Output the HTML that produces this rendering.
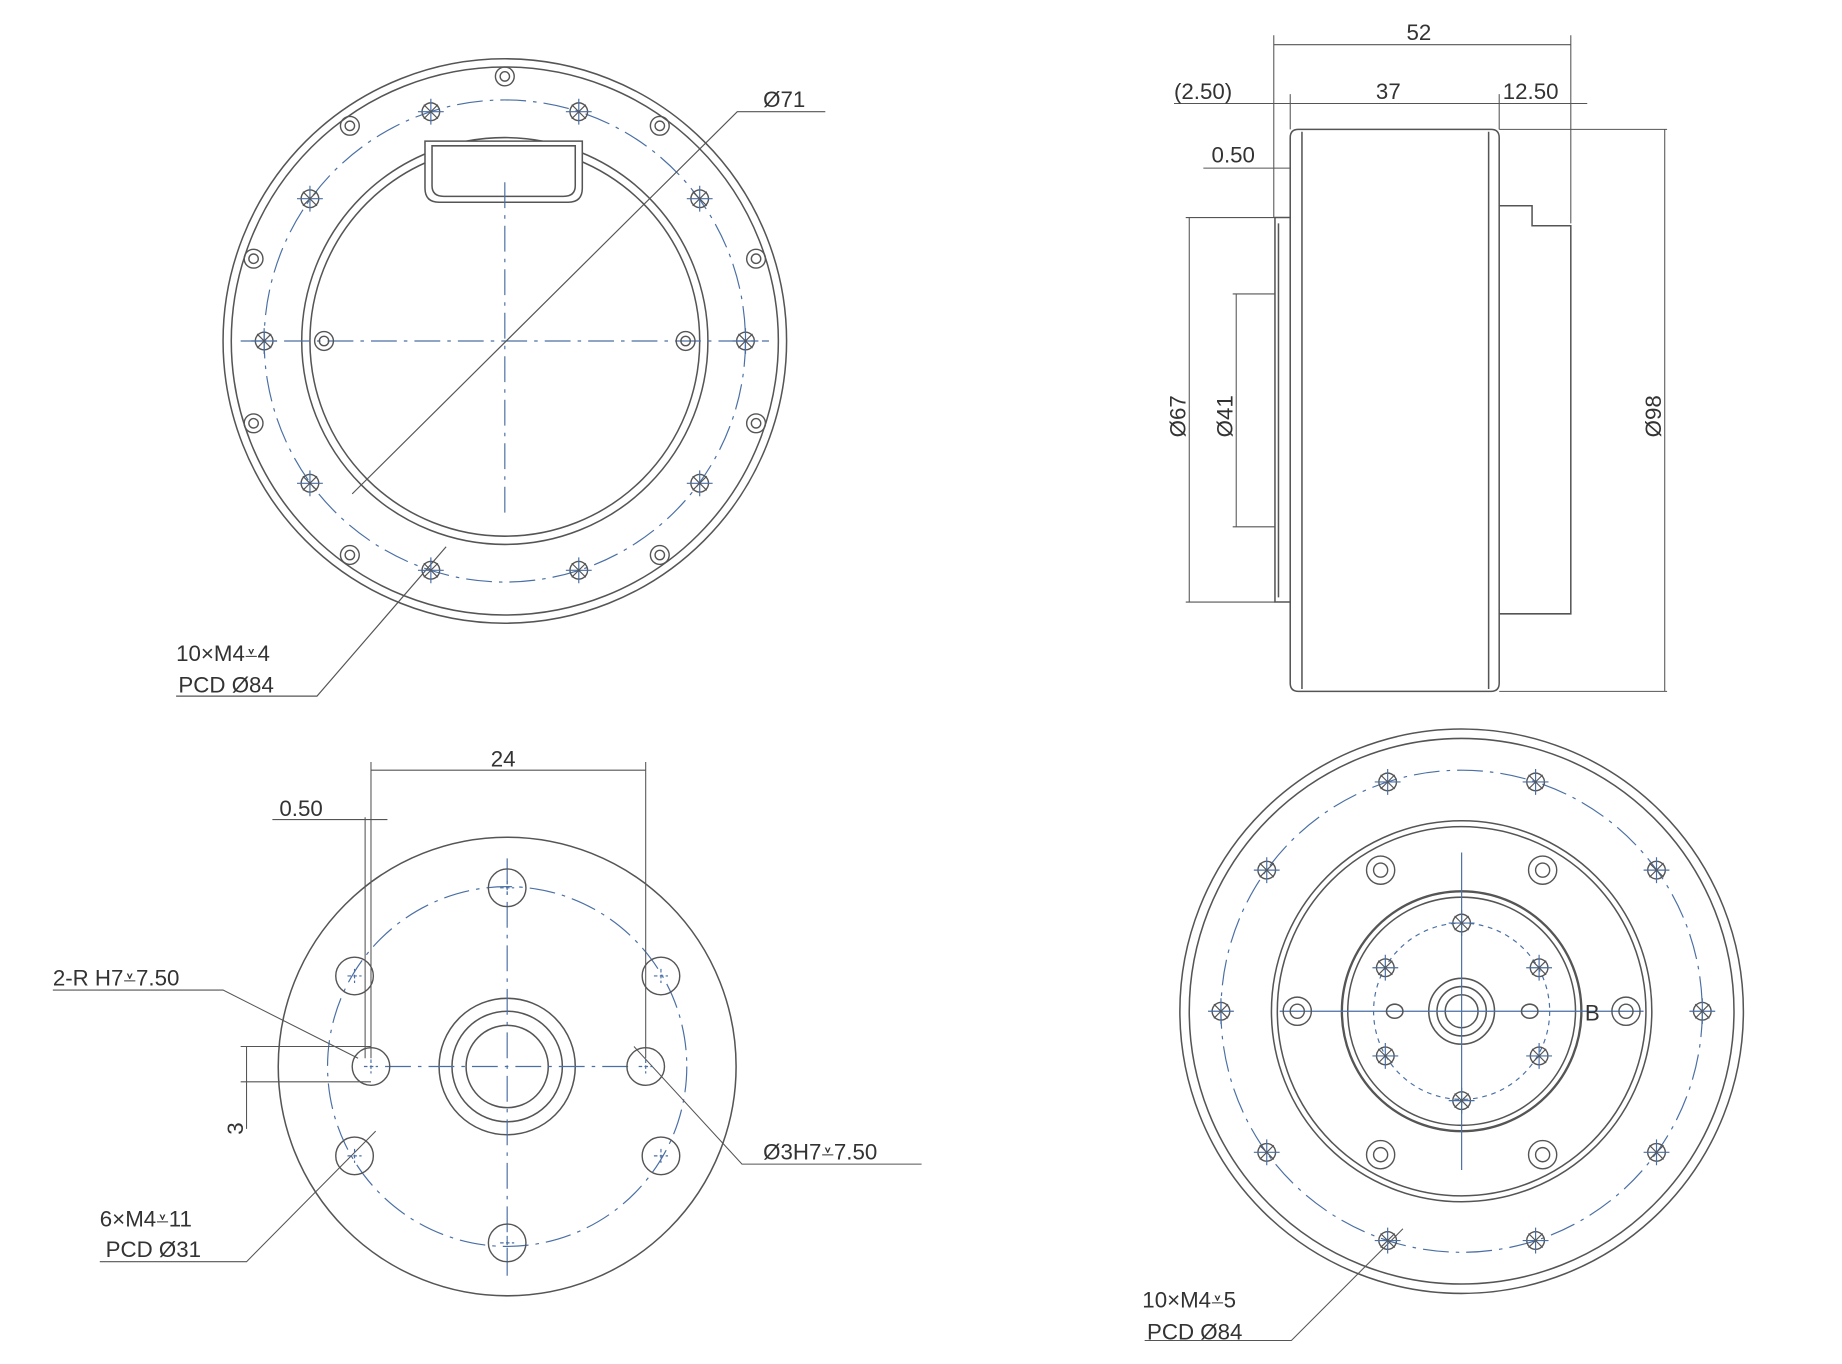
<!DOCTYPE html>
<html><head><meta charset="utf-8"><style>
html,body{margin:0;padding:0;background:#fff;}
svg{display:block;}
text{font-family:"Liberation Sans","DejaVu Sans",sans-serif;font-size:19px;fill:#333;}
</style></head><body>
<svg width="1842" height="1364" viewBox="0 0 1569 1160" preserveAspectRatio="none" xmlns="http://www.w3.org/2000/svg">
<defs>
<g id="xh"><circle r="7.5" fill="none" stroke="#555" stroke-width="1.2"/><path d="M-11,0H11M0,-11V11" stroke="#4a6fa5" stroke-width="1"/><path d="M-6,-6L6,6M-6,6L6,-6" stroke="#555" stroke-width="1"/></g>
<g id="dc"><circle r="8" fill="none" stroke="#555" stroke-width="1.2"/><circle r="4" fill="none" stroke="#555" stroke-width="1.2"/></g>
<g id="dc2"><circle r="12" fill="none" stroke="#555" stroke-width="1.2"/><circle r="6" fill="none" stroke="#555" stroke-width="1.2"/></g>
<g id="ph"><circle r="16" fill="none" stroke="#555" stroke-width="1.2"/><path d="M-6,0H6M0,-6V6" stroke="#4a6fa5" stroke-width="1" stroke-dasharray="3 2"/></g>
</defs>
<g fill="none" stroke="#555" stroke-width="1.3">
<circle cx="430" cy="290" r="240"/>
<circle cx="430" cy="290" r="233"/>
<circle cx="430" cy="290" r="205" stroke="#4a6fa5" stroke-width="1" stroke-dasharray="22 6 3 6"/>
<circle cx="430" cy="290" r="173"/>
<circle cx="430" cy="290" r="166"/>
<path d="M362,120 H496 V160 Q496,172 484,172 H374 Q362,172 362,160 Z" fill="#fff"/>
<path d="M368,124 H490 V158 Q490,167 480,167 H378 Q368,167 368,158 Z"/>
<path d="M205,290 H655 M430,155 V440" stroke="#4a6fa5" stroke-width="1" stroke-dasharray="22 6 3 6"/>
<path d="M300,420 L628,95 H703 M380,465 L270,592 H150" stroke-width="1"/>
</g>
<g>
<use href="#xh" x="225" y="290"/><use href="#xh" x="635" y="290"/>
<use href="#xh" x="264" y="169"/><use href="#xh" x="596" y="169"/>
<use href="#xh" x="264" y="411"/><use href="#xh" x="596" y="411"/>
<use href="#xh" x="367" y="95"/><use href="#xh" x="493" y="95"/>
<use href="#xh" x="367" y="485"/><use href="#xh" x="493" y="485"/>
<use href="#dc" x="430" y="65"/><use href="#dc" x="298" y="107"/><use href="#dc" x="562" y="107"/>
<use href="#dc" x="216" y="220"/><use href="#dc" x="644" y="220"/>
<use href="#dc" x="216" y="360"/><use href="#dc" x="644" y="360"/>
<use href="#dc" x="298" y="472"/><use href="#dc" x="562" y="472"/>
<use href="#dc" x="276" y="290"/><use href="#dc" x="584" y="290"/>
</g>
<text x="650" y="91">Ø71</text>
<text x="150" y="562">10×M4⩡4</text>
<text x="152" y="589">PCD Ø84</text>

<g fill="none" stroke="#555" stroke-width="1.3">
<path d="M1106,110 H1270 Q1277,110 1277,117 V581 Q1277,588 1270,588 H1106 Q1099,588 1099,581 V117 Q1099,110 1106,110 Z"/>
<path d="M1109,112 V586 M1268,112 V586"/>
<path d="M1099,185 H1086 V512 H1099 M1089,190 V508"/>
<path d="M1277,175 H1305 V192 H1338 V522 H1277"/>
<path d="M1085,30 V185 M1338,30 V190 M1099,80 V110 M1277,80 V110 M1277,110 H1420 M1277,588 H1420 M1010,185 H1086 M1010,512 H1086 M1050,250 H1086 M1050,448 H1086" stroke-width="0.9"/>
<path d="M1085,38 H1338 M1000,88 H1352 M1025,143 H1099 M1418,110 V588 M1013,185 V512 M1053,250 V448" stroke-width="0.9"/>
</g>
<text x="1198" y="34">52</text>
<text x="1172" y="84">37</text>
<text x="1000" y="84">(2.50)</text>
<text x="1280" y="84">12.50</text>
<text x="1032" y="138">0.50</text>
<text transform="translate(1010,372) rotate(-90)">Ø67</text>
<text transform="translate(1050,372) rotate(-90)">Ø41</text>
<text transform="translate(1415,372) rotate(-90)">Ø98</text>

<g fill="none" stroke="#555" stroke-width="1.3">
<circle cx="432" cy="907" r="195"/>
<circle cx="432" cy="907" r="153" stroke="#4a6fa5" stroke-width="1" stroke-dasharray="22 6 3 6"/>
<circle cx="432" cy="907" r="58"/>
<circle cx="432" cy="907" r="47"/>
<circle cx="432" cy="907" r="35"/>
<path d="M328,907 H536 M432,730 V1085" stroke="#4a6fa5" stroke-width="1" stroke-dasharray="22 6 3 6"/>
<path d="M316,648 V900 M550,648 V900 M316,655 H550 M232,697 H330 M311,695 V900" stroke-width="0.9"/>
<path d="M45,842 H190 L305,900 M205,890 H316 M205,920 H316 M210,890 V960 M540,890 L632,990 H785 M320,962 L210,1073 H85" stroke-width="0.9"/>
</g>
<g>
<use href="#ph" x="432" y="755"/><use href="#ph" x="432" y="1057"/>
<use href="#ph" x="302" y="830"/><use href="#ph" x="563" y="830"/>
<use href="#ph" x="302" y="983"/><use href="#ph" x="563" y="983"/>
<use href="#ph" x="316" y="907"/><use href="#ph" x="550" y="907"/>
</g>
<text x="418" y="652">24</text>
<text x="238" y="694">0.50</text>
<text x="45" y="838">2-R H7⩡7.50</text>
<text transform="translate(207,965) rotate(-90)">3</text>
<text x="650" y="986">Ø3H7⩡7.50</text>
<text x="85" y="1043">6×M4⩡11</text>
<text x="90" y="1069">PCD Ø31</text>

<g fill="none" stroke="#555" stroke-width="1.3">
<circle cx="1245" cy="860" r="240"/>
<circle cx="1245" cy="860" r="232"/>
<circle cx="1245" cy="860" r="205" stroke="#4a6fa5" stroke-width="1" stroke-dasharray="22 6 3 6"/>
<circle cx="1245" cy="860" r="162"/>
<circle cx="1245" cy="860" r="157"/>
<circle cx="1245" cy="860" r="102" stroke-width="2"/>
<circle cx="1245" cy="860" r="97"/>
<circle cx="1245" cy="860" r="75" stroke="#4a6fa5" stroke-width="1" stroke-dasharray="4 4"/>
<circle cx="1245" cy="860" r="28"/>
<circle cx="1245" cy="860" r="21"/>
<circle cx="1245" cy="860" r="14"/>
<path d="M1090,860 H1400 M1245,725 V995" stroke="#4a6fa5" stroke-width="1"/>
<ellipse cx="1188" cy="860" rx="7" ry="6"/><ellipse cx="1303" cy="860" rx="7" ry="6"/>
<path d="M1195,1045 L1100,1140 H975" stroke-width="0.9"/>
</g>
<g>
<use href="#xh" x="1040" y="860"/><use href="#xh" x="1450" y="860"/>
<use href="#xh" x="1079" y="740"/><use href="#xh" x="1411" y="740"/>
<use href="#xh" x="1079" y="980"/><use href="#xh" x="1411" y="980"/>
<use href="#xh" x="1182" y="665"/><use href="#xh" x="1308" y="665"/>
<use href="#xh" x="1182" y="1055"/><use href="#xh" x="1308" y="1055"/>
<use href="#dc2" x="1105" y="860"/><use href="#dc2" x="1385" y="860"/>
<use href="#dc2" x="1176" y="740"/><use href="#dc2" x="1314" y="740"/>
<use href="#dc2" x="1176" y="982"/><use href="#dc2" x="1314" y="982"/>
<use href="#xh" x="1245" y="785"/><use href="#xh" x="1245" y="936"/>
<use href="#xh" x="1180" y="823"/><use href="#xh" x="1311" y="823"/>
<use href="#xh" x="1180" y="898"/><use href="#xh" x="1311" y="898"/>
</g>
<text x="1350" y="868">B</text>
<text x="973" y="1112">10×M4⩡5</text>
<text x="977" y="1139">PCD Ø84</text>
</svg>
</body></html>
